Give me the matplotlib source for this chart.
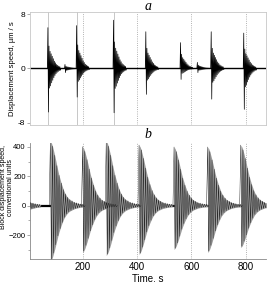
import numpy as np
import matplotlib.pyplot as plt
from matplotlib.ticker import MultipleLocator

plt.rcParams['font.family'] = ['Liberation Sans', 'DejaVu Sans']

# --- panel a: displacement speed bursts (um/s) ---
top_onsets = [71, 134, 177, 313, 432, 560, 622, 673, 793]
top_pos = [6.0, 0.6, 6.3, 7.1, 5.4, 3.8, 0.9, 5.4, 5.2]
top_neg = [6.4, 0.6, 4.2, 6.5, 3.8, 1.6, 0.6, 4.5, 6.0]
top_marks = [71, 177, 313]
# relative envelope, one value per half-cycle (2 s)
top_profile = [1.0, 1.0, 0.55, 0.45, 0.42, 0.40, 0.36, 0.33, 0.30, 0.27, 0.24, 0.21,
               0.18, 0.16, 0.14, 0.12, 0.10, 0.09, 0.08, 0.07, 0.06, 0.05, 0.045, 0.04]
top_step = 2.0

# --- panel b: block displacement speed (conventional units) ---
bot_onsets = [-80, 80, 199, 286, 407, 536, 660, 782]
bot_pos = [400, 440, 402, 440, 413, 400, 400, 413]
bot_neg = [400, 380, 318, 339, 332, 298, 318, 285]
# relative envelope, one value per half-cycle (4 s)
bot_profile = [1.0, 0.97, 0.92, 0.85, 0.78, 0.70, 0.62, 0.54, 0.47, 0.41, 0.35, 0.30,
               0.25, 0.21, 0.18, 0.15, 0.13, 0.11, 0.095, 0.085, 0.075, 0.065, 0.055,
               0.05, 0.045, 0.04, 0.035, 0.03, 0.027, 0.025, 0.022, 0.02]
bot_step = 4.0

grid_x = [200, 400, 600, 800]


def burst(onset, pos, neg, profile, step):
    k = np.arange(len(profile))
    t = onset + step * k
    sign = np.where(k % 2 == 0, pos, -neg)
    y = sign * np.array(profile)
    return np.concatenate([[onset - step], t, [t[-1] + step]]), np.concatenate([[0], y, [0]])


fig = plt.figure(figsize=(2.7, 2.82), dpi=100)
ax1 = fig.add_axes([30 / 270, 1 - 125 / 282, 236 / 270, 113 / 282])
ax2 = fig.add_axes([30 / 270, 1 - 259 / 282, 236 / 270, 116 / 282])

# panel a
for x in top_marks:
    ax1.axvline(x, color='#b0b0b0', lw=0.5, zorder=1)
ax1.axhline(0, color='k', lw=1.0, zorder=2)
for t0, p, n in zip(top_onsets, top_pos, top_neg):
    t, y = burst(t0, p, n, top_profile, top_step)
    ax1.plot(t, y, color='k', lw=0.5, zorder=3)
ax1.set_xlim(5, 875)
ax1.set_ylim(-8.3, 8.3)
ax1.set_yticks([-8, 0, 8])
ax1.set_yticklabels(['-8', '0', '8'])
ax1.set_xticks(grid_x)
ax1.set_xticklabels([])
ax1.tick_params(axis='x', length=0)
ax1.tick_params(axis='y', length=2, width=0.5, color='#888888', labelsize=6, pad=1.5)
for s in ax1.spines.values():
    s.set_color('#c8c8c8')
    s.set_linewidth(0.6)
ax1.grid(axis='x', linestyle=':', color='#999999', lw=0.6)
ax1.set_axisbelow(True)
ax1.set_ylabel('Displacement speed, \u00b5m / s', fontsize=5.5)
ax1.yaxis.set_label_coords(-0.06, 0.5)

# panel b
ax2.axhline(0, color='k', lw=1.6, zorder=2)
for t0, p, n in zip(bot_onsets, bot_pos, bot_neg):
    t, y = burst(t0, p, n, bot_profile, bot_step)
    env_t = t0 + bot_step * np.arange(len(bot_profile))
    env = np.array(bot_profile)
    ax2.fill_between(env_t, -n * env, p * env, color='#9c9c9c', lw=0, zorder=2.5)
    ax2.plot(t, y, color='#111111', lw=0.3, zorder=3)
ax2.set_xlim(5, 875)
ax2.set_ylim(-363, 427)
ax2.set_yticks([-200, 0, 200, 400])
ax2.yaxis.set_minor_locator(MultipleLocator(100))
ax2.set_xticks(grid_x)
ax2.tick_params(axis='x', length=0, labelsize=7, pad=2)
ax2.tick_params(axis='y', which='major', length=2, width=0.5, color='#888888', labelsize=5.5, pad=1.0)
ax2.tick_params(axis='y', which='minor', length=1.5, width=0.5, color='#888888')
ax2.spines['top'].set_visible(False)
ax2.spines['right'].set_visible(False)
ax2.spines['left'].set_color('#888888')
ax2.spines['bottom'].set_color('#888888')
ax2.spines['left'].set_linewidth(0.6)
ax2.spines['bottom'].set_linewidth(0.6)
ax2.grid(axis='x', linestyle=':', color='#999999', lw=0.6)
ax2.set_axisbelow(True)
ax2.set_ylabel('Block displacement speed,\nconventional units', fontsize=5.0,
               linespacing=0.95)
ax2.yaxis.set_label_coords(-0.068, 0.62)
ax2.set_xlabel('Time, s', fontsize=7, labelpad=1)

fig.text(148 / 270, 1 - 6 / 282, 'a', ha='center', va='center', fontsize=10,
         style='italic', family='Liberation Serif')
fig.text(148 / 270, 1 - 134 / 282, 'b', ha='center', va='center', fontsize=10,
         style='italic', family='Liberation Serif')

fig.savefig('out.png', dpi=100)
